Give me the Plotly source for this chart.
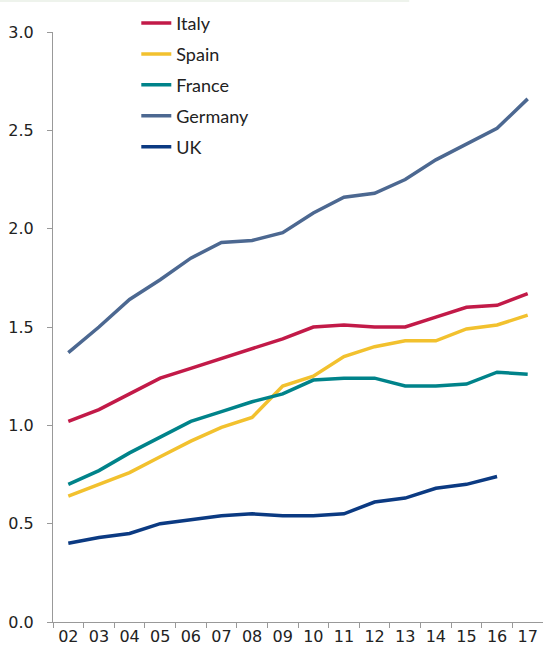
import plotly.graph_objects as go

years = ["02", "03", "04", "05", "06", "07", "08", "09",
         "10", "11", "12", "13", "14", "15", "16", "17"]

italy = [1.02, 1.08, 1.16, 1.24, 1.29, 1.34, 1.39, 1.44,
         1.50, 1.51, 1.50, 1.50, 1.55, 1.60, 1.61, 1.67]
spain = [0.64, 0.70, 0.76, 0.84, 0.92, 0.99, 1.04, 1.20,
         1.25, 1.35, 1.40, 1.43, 1.43, 1.49, 1.51, 1.56]
france = [0.70, 0.77, 0.86, 0.94, 1.02, 1.07, 1.12, 1.16,
          1.23, 1.24, 1.24, 1.20, 1.20, 1.21, 1.27, 1.26]
germany = [1.37, 1.50, 1.64, 1.74, 1.85, 1.93, 1.94, 1.98,
           2.08, 2.16, 2.18, 2.25, 2.35, 2.43, 2.51, 2.66]
uk = [0.40, 0.43, 0.45, 0.50, 0.52, 0.54, 0.55, 0.54,
      0.54, 0.55, 0.61, 0.63, 0.68, 0.70, 0.74, None]

series = [
    ("Italy", italy, "#c21a48"),
    ("Spain", spain, "#f2c12e"),
    ("France", france, "#00838a"),
    ("Germany", germany, "#4c6891"),
    ("UK", uk, "#0b3a82"),
]

fig = go.Figure()
for name, vals, color in series:
    fig.add_trace(go.Scatter(
        x=years, y=vals, name=name, mode="lines",
        line=dict(color=color, width=3.5),
        connectgaps=False, legendgroup=name,
    ))

fig.update_layout(
    width=543, height=654,
    margin=dict(l=53, r=0, t=32, b=32),
    paper_bgcolor="white", plot_bgcolor="white",
    showlegend=True,
    legend=dict(
        x=0.17, y=1.046, xanchor="left", yanchor="top",
        bgcolor="rgba(0,0,0,0)",
        font=dict(family="Lato, sans-serif", size=18, color="#222"),
        itemwidth=30, tracegroupgap=4.5,
    ),
    shapes=[dict(
        type="rect", xref="paper", yref="paper",
        x0=-0.11, x1=0.727, y0=1.051, y1=1.06,
        fillcolor="#eef3ec", line=dict(width=0), layer="below",
    )],
)

fig.update_xaxes(
    type="category", tickson="boundaries",
    ticks="outside", ticklen=5, tickcolor="#999", tickwidth=1,
    showline=True, linecolor="#999", linewidth=1,
    showgrid=False, zeroline=False,
    tickfont=dict(family="DejaVu Sans, sans-serif", size=16, color="#222"),
    range=[-0.5, 15.5],
)
fig.update_yaxes(
    range=[0, 3.0], tickvals=[0, 0.5, 1.0, 1.5, 2.0, 2.5, 3.0],
    tickformat=".1f",
    ticks="outside", ticklen=5, tickcolor="#999", tickwidth=1,
    showline=True, linecolor="#999", linewidth=1,
    showgrid=False, zeroline=False, ticklabelstandoff=10,
    tickfont=dict(family="DejaVu Sans, sans-serif", size=16, color="#222"),
)

fig.write_html("out.html")
